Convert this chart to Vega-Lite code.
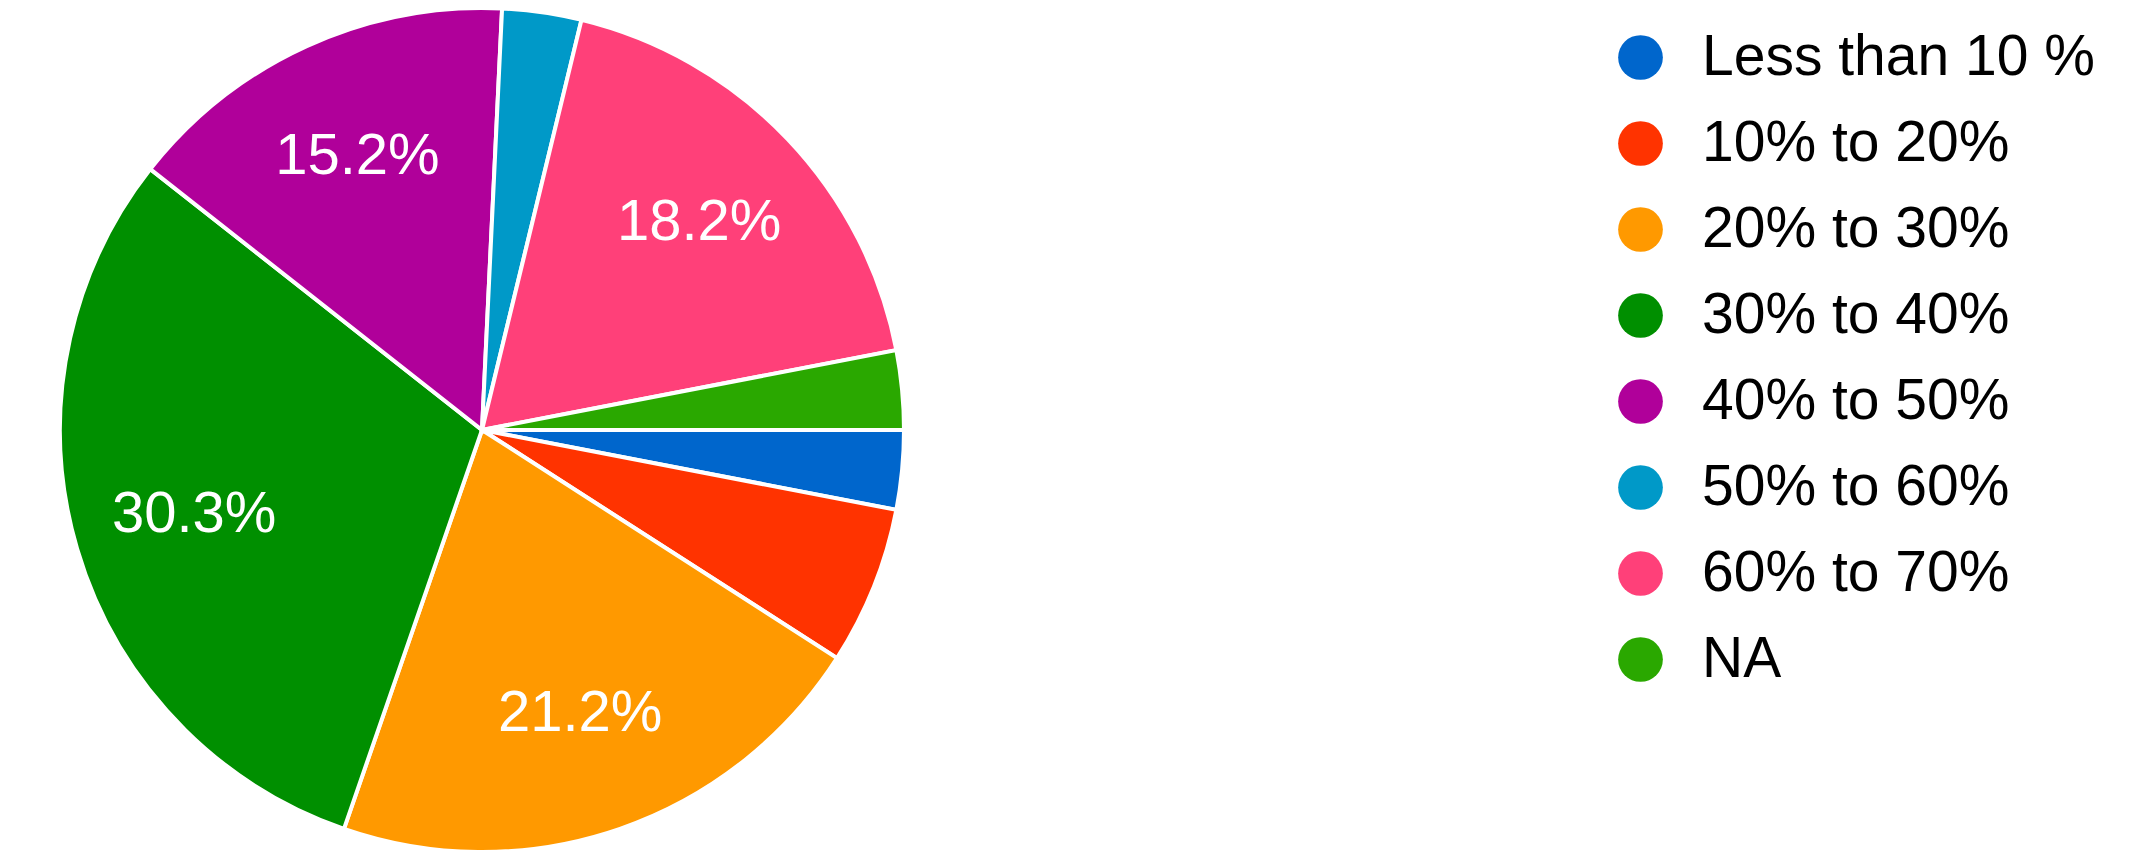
{
  "$schema": "https://vega.github.io/schema/vega-lite/v6.json",
  "width": 964,
  "height": 852,
  "padding": 0,
  "background": "white",
  "config": {"view": {"stroke": null}},
  "data": {
    "values": [
      {"category": "Less than 10 %", "count": 1, "rank": 1, "label": ""},
      {"category": "10% to 20%", "count": 2, "rank": 2, "label": ""},
      {"category": "20% to 30%", "count": 7, "rank": 3, "label": "21.2%"},
      {"category": "30% to 40%", "count": 10, "rank": 4, "label": "30.3%"},
      {"category": "40% to 50%", "count": 5, "rank": 5, "label": "15.2%"},
      {"category": "50% to 60%", "count": 1, "rank": 6, "label": ""},
      {"category": "60% to 70%", "count": 6, "rank": 7, "label": "18.2%"},
      {"category": "NA", "count": 1, "rank": 8, "label": ""}
    ]
  },
  "encoding": {
    "theta": {"field": "count", "type": "quantitative", "stack": true, "scale": {"range": [1.5708, 7.8540]}},
    "order": {"field": "rank", "type": "quantitative"}
  },
  "layer": [
    {
      "mark": {"type": "arc", "outerRadius": 422, "stroke": "white", "strokeWidth": 4},
      "encoding": {
        "color": {
          "field": "category",
          "type": "nominal",
          "scale": {
            "domain": ["Less than 10 %", "10% to 20%", "20% to 30%", "30% to 40%", "40% to 50%", "50% to 60%", "60% to 70%", "NA"],
            "range": ["#0066cc", "#ff3300", "#ff9900", "#008f00", "#b0009a", "#0099c8", "#ff4079", "#2aa800"]
          },
          "legend": {
            "title": null,
            "orient": "none",
            "legendX": 1612,
            "legendY": 25,
            "padding": 0,
            "symbolType": "circle",
            "symbolSize": 2000,
            "symbolStrokeWidth": 0,
            "labelFont": "Liberation Sans",
            "labelFontSize": 57,
            "labelColor": "#000000",
            "labelOffset": 33,
            "labelLimit": 700,
            "rowPadding": 28
          }
        }
      }
    },
    {
      "mark": {"type": "text", "radius": 300, "font": "Liberation Sans", "fontSize": 58, "fill": "white"},
      "encoding": {
        "detail": {"field": "category", "type": "nominal"},
        "text": {"field": "label", "type": "nominal"}
      }
    }
  ]
}
